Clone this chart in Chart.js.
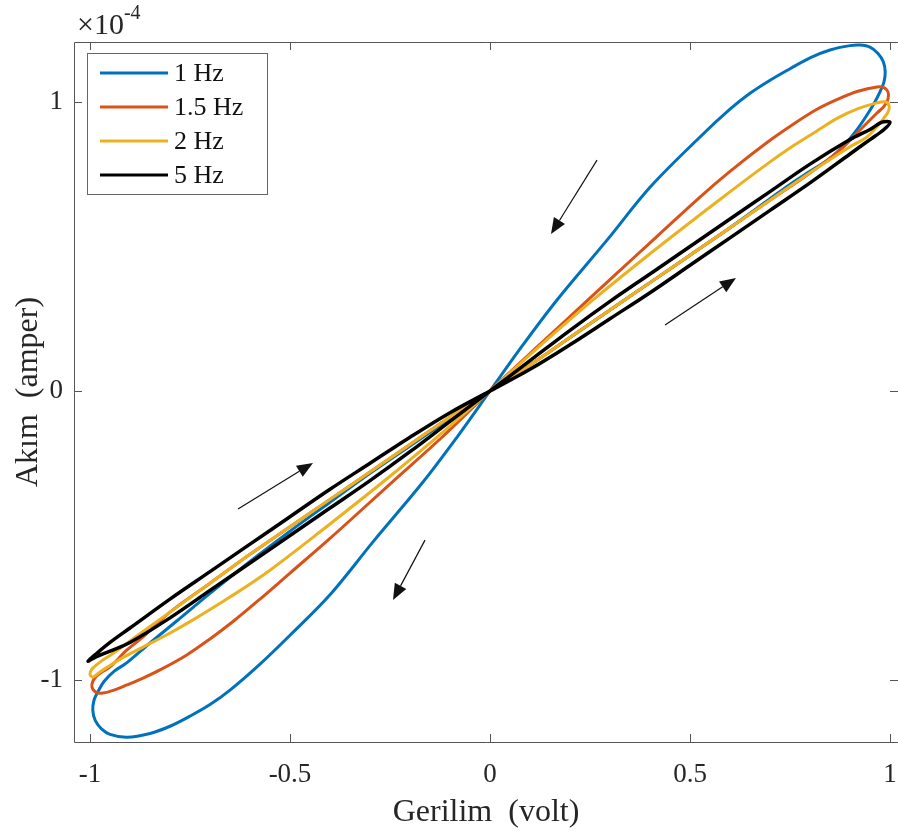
<!DOCTYPE html>
<html>
<head>
<meta charset="utf-8">
<script src="https://cdn.jsdelivr.net/npm/chart.js@4.4.1/dist/chart.umd.min.js"></script>
<style>
  html, body { margin: 0; padding: 0; background: #fff; overflow: hidden; }
  #kutu { width: 898px; height: 837px; }
</style>
</head>
<body>
<div id="kutu"><canvas id="grafik" width="898" height="837"></canvas></div>
<script>
// Gerilim (volt) ve akım (x 1e-4 amper) değerleri
const etiketler = ['1 Hz', '1.5 Hz', '2 Hz', '5 Hz'];
const renkler = ['#0072BD', '#D95319', '#EDB120', '#000000'];

const gerilim1 = [0, 0.1, 0.2, 0.3, 0.4, 0.5, 0.6, 0.7, 0.75, 0.8, 0.85, 0.885, 0.915, 0.94, 0.96, 0.975, 0.985, 0.988,
  0.983, 0.97, 0.95, 0.925, 0.9, 0.85, 0.8, 0.75, 0.7, 0.65, 0.6, 0.525, 0.4, 0.2925, 0.1675, 0.08, 0,
  -0.08, -0.1675, -0.2925, -0.4, -0.5, -0.575, -0.65, -0.7, -0.75, -0.8, -0.85, -0.9075, -0.95, -0.972, -0.987, -0.993,
  -0.99, -0.98, -0.965, -0.94, -0.9075, -0.85, -0.7825, -0.7, -0.6, -0.5, -0.4, -0.3, -0.2, -0.1, 0];
const akim1 = [0, 0.09, 0.185, 0.28, 0.375, 0.47, 0.565, 0.665, 0.715, 0.76, 0.805, 0.85, 0.9, 0.95, 0.995, 1.035, 1.07, 1.105,
  1.14, 1.168, 1.19, 1.197, 1.195, 1.18, 1.153, 1.115, 1.075, 1.03, 0.975, 0.879, 0.705, 0.522, 0.315, 0.155, 0,
  -0.155, -0.315, -0.522, -0.705, -0.845, -0.945, -1.035, -1.085, -1.125, -1.16, -1.185, -1.198, -1.188, -1.168, -1.14, -1.105,
  -1.07, -1.04, -1.005, -0.97, -0.94, -0.872, -0.795, -0.7, -0.59, -0.485, -0.385, -0.285, -0.19, -0.095, 0];

const gerilim15 = [0, 0.1, 0.2, 0.3, 0.4, 0.5, 0.6, 0.7, 0.8, 0.875, 0.925, 0.9675, 0.985, 0.995,
  0.995, 0.985, 0.9675, 0.92, 0.87, 0.8175, 0.76, 0.6925, 0.6, 0.525, 0.375, 0.245, 0.12, 0,
  -0.12, -0.25, -0.4, -0.5, -0.575, -0.64, -0.7, -0.76, -0.825, -0.87, -0.9075, -0.94, -0.9675, -0.985, -0.995,
  -0.993, -0.9825, -0.965, -0.95, -0.9075, -0.8675, -0.8, -0.7, -0.6, -0.5, -0.4, -0.3, -0.2, -0.1, 0];
const akim15 = [0, 0.09, 0.185, 0.28, 0.375, 0.47, 0.565, 0.66, 0.754, 0.834, 0.903, 0.962, 0.985, 1.01,
  1.035, 1.05, 1.052, 1.037, 1.01, 0.975, 0.925, 0.86, 0.76, 0.671, 0.481, 0.315, 0.155, 0,
  -0.16, -0.322, -0.51, -0.63, -0.72, -0.795, -0.858, -0.915, -0.965, -0.995, -1.017, -1.035, -1.045, -1.043, -1.025,
  -1.005, -0.985, -0.968, -0.955, -0.896, -0.851, -0.765, -0.665, -0.565, -0.47, -0.375, -0.28, -0.185, -0.09, 0];

const gerilim2 = [0, 0.1, 0.2, 0.3, 0.4, 0.5, 0.6, 0.7, 0.8, 0.9, 0.9425, 0.975, 0.985, 0.995,
  0.998, 0.99, 0.9675, 0.92, 0.87, 0.8175, 0.76, 0.6925, 0.5675, 0.4, 0.2575, 0.12, 0,
  -0.12, -0.25, -0.4, -0.55, -0.65, -0.7425, -0.81, -0.8675, -0.915, -0.95, -0.975, -0.9925, -1.0,
  -0.995, -0.975, -0.95, -0.9, -0.8, -0.7, -0.6, -0.5, -0.4, -0.3, -0.2, -0.1, 0];
const akim2 = [0, 0.09, 0.185, 0.28, 0.375, 0.47, 0.565, 0.66, 0.755, 0.845, 0.879, 0.927, 0.945, 0.965,
  0.985, 1.0, 0.997, 0.977, 0.945, 0.9, 0.85, 0.785, 0.655, 0.475, 0.315, 0.15, 0,
  -0.145, -0.295, -0.46, -0.62, -0.713, -0.792, -0.845, -0.886, -0.92, -0.95, -0.972, -0.99, -0.98,
  -0.962, -0.938, -0.915, -0.865, -0.765, -0.665, -0.565, -0.47, -0.375, -0.28, -0.185, -0.09, 0];

const gerilim5 = [0, 0.1, 0.2, 0.3, 0.4, 0.5, 0.6, 0.7, 0.8, 0.9, 0.95, 0.985, 1.0,
  0.98, 0.95, 0.9, 0.8, 0.7, 0.6, 0.5, 0.4, 0.3, 0.2, 0.1, 0,
  -0.1, -0.2, -0.3, -0.4, -0.5, -0.6, -0.7, -0.8, -0.9, -0.95, -0.985, -1.005,
  -0.985, -0.95, -0.9, -0.8, -0.7, -0.6, -0.5, -0.4, -0.3, -0.2, -0.1, 0];
const akim5 = [0, 0.075, 0.16, 0.25, 0.34, 0.435, 0.53, 0.625, 0.72, 0.82, 0.87, 0.905, 0.93,
  0.93, 0.905, 0.87, 0.785, 0.69, 0.595, 0.5, 0.405, 0.31, 0.21, 0.105, 0,
  -0.105, -0.21, -0.31, -0.405, -0.5, -0.595, -0.69, -0.785, -0.87, -0.9, -0.92, -0.935,
  -0.91, -0.87, -0.82, -0.72, -0.625, -0.53, -0.435, -0.34, -0.25, -0.16, -0.075, 0];

const xTikler = [-1, -0.5, 0, 0.5, 1];
const yTikler = [-1, 0, 1];

// yön okları: [başlangıç V, başlangıç I, uç V, uç I]
const oklar = [
  [0.2675, 0.799, 0.1525, 0.543],
  [0.4375, 0.228, 0.615, 0.391],
  [-0.63, -0.408, -0.4425, -0.249],
  [-0.1625, -0.516, -0.2425, -0.723]
];

const yazi = 'Liberation Serif, Times New Roman, serif';

function noktalar(vs, is) {
  return vs.map((v, i) => ({ x: v, y: is[i] }));
}

const seriler = [
  noktalar(gerilim1, akim1),
  noktalar(gerilim15, akim15),
  noktalar(gerilim2, akim2),
  noktalar(gerilim5, akim5)
];

const cerceve = {
  id: 'cerceve',
  beforeDatasetsDraw(chart) {
    const { ctx, chartArea: a, scales, width } = chart;
    ctx.save();
    ctx.strokeStyle = '#555';
    ctx.lineWidth = 1;
    // sağ kenar görüntünün dışında kalıyor
    ctx.beginPath();
    ctx.moveTo(width, a.top + 0.5);
    ctx.lineTo(a.left + 0.5, a.top + 0.5);
    ctx.lineTo(a.left + 0.5, a.bottom + 0.5);
    ctx.lineTo(width, a.bottom + 0.5);
    ctx.stroke();
    // içe dönük tik çizgileri
    ctx.beginPath();
    xTikler.forEach(v => {
      const px = Math.round(scales.x.getPixelForValue(v)) + 0.5;
      ctx.moveTo(px, a.bottom); ctx.lineTo(px, a.bottom - 8);
      ctx.moveTo(px, a.top); ctx.lineTo(px, a.top + 8);
    });
    yTikler.forEach(v => {
      const py = Math.round(scales.y.getPixelForValue(v)) + 0.5;
      ctx.moveTo(a.left, py); ctx.lineTo(a.left + 8, py);
      ctx.moveTo(width, py); ctx.lineTo(width - 8, py);
    });
    ctx.stroke();
    ctx.restore();
  },
  afterDraw(chart) {
    const { ctx, scales } = chart;
    ctx.save();
    // oklar
    ctx.strokeStyle = '#111';
    ctx.fillStyle = '#111';
    ctx.lineWidth = 1.2;
    oklar.forEach(o => {
      const x1 = scales.x.getPixelForValue(o[0]), y1 = scales.y.getPixelForValue(o[1]);
      const x2 = scales.x.getPixelForValue(o[2]), y2 = scales.y.getPixelForValue(o[3]);
      const aci = Math.atan2(y2 - y1, x2 - x1);
      const boy = 16, gen = 6.5;
      const bx = x2 - boy * Math.cos(aci), by = y2 - boy * Math.sin(aci);
      ctx.beginPath();
      ctx.moveTo(x1, y1); ctx.lineTo(bx, by);
      ctx.stroke();
      ctx.beginPath();
      ctx.moveTo(x2, y2);
      ctx.lineTo(bx + gen * Math.sin(aci), by - gen * Math.cos(aci));
      ctx.lineTo(bx - gen * Math.sin(aci), by + gen * Math.cos(aci));
      ctx.closePath();
      ctx.fill();
    });

    // lejant
    ctx.fillStyle = '#fff';
    ctx.fillRect(87, 53, 180, 141);
    ctx.strokeStyle = '#666';
    ctx.lineWidth = 1;
    ctx.strokeRect(87.5, 53.5, 180, 141);
    ctx.font = '26px ' + yazi;
    ctx.textBaseline = 'middle';
    ctx.textAlign = 'left';
    etiketler.forEach((e, i) => {
      const y = 73 + i * 34;
      ctx.strokeStyle = renkler[i];
      ctx.lineWidth = 3;
      ctx.beginPath();
      ctx.moveTo(100, y); ctx.lineTo(168, y);
      ctx.stroke();
      ctx.fillStyle = '#111';
      ctx.fillText(e, 174, y + 1);
    });

    // x10^-4 çarpanı
    ctx.fillStyle = '#262626';
    ctx.textBaseline = 'alphabetic';
    ctx.font = '30px ' + yazi;
    const carpan = '\u00d710';
    ctx.fillText(carpan, 77, 34);
    const w = ctx.measureText(carpan).width;
    ctx.font = '20px ' + yazi;
    ctx.fillText('-4', 77 + w, 19);
    ctx.restore();
  }
};

new Chart(document.getElementById('grafik'), {
  type: 'scatter',
  data: {
    datasets: seriler.map((s, i) => ({
      label: etiketler[i],
      data: s,
      showLine: true,
      borderColor: renkler[i],
      backgroundColor: renkler[i],
      borderWidth: i === 3 ? 3.5 : 3,
      pointRadius: 0,
      tension: 0.35,
      order: 4 - i
    }))
  },
  options: {
    responsive: false,
    animation: false,
    layout: { padding: { top: 42, right: 0, left: 0, bottom: 0 } },
    plugins: { legend: { display: false }, tooltip: { enabled: false } },
    scales: {
      x: {
        type: 'linear',
        min: -1.04,
        max: 1.02,
        afterBuildTicks: s => { s.ticks = xTikler.map(v => ({ value: v })); },
        afterFit: s => { s.height = 95; s.paddingLeft = 0; s.paddingRight = 0; },
        grid: { display: false },
        border: { display: false },
        ticks: {
          color: '#262626',
          font: { family: yazi, size: 27 },
          padding: 9,
          maxRotation: 0,
          callback: v => String(v)
        },
        title: {
          display: true,
          text: 'Gerilim  (volt)',
          color: '#262626',
          font: { family: yazi, size: 32 },
          padding: { top: 0, bottom: 5 }
        }
      },
      y: {
        type: 'linear',
        min: -1.2145,
        max: 1.2076,
        afterBuildTicks: s => { s.ticks = yTikler.map(v => ({ value: v })); },
        afterFit: s => { s.width = 74; s.paddingTop = 0; s.paddingBottom = 0; },
        grid: { display: false },
        border: { display: false },
        ticks: {
          color: '#262626',
          font: { family: yazi, size: 27 },
          padding: 3,
          callback: v => String(v)
        },
        title: {
          display: true,
          text: 'Akım  (amper)',
          color: '#262626',
          font: { family: yazi, size: 32 },
          padding: { top: 9, bottom: 0 }
        }
      }
    }
  },
  plugins: [cerceve]
});
</script>
</body>
</html>
